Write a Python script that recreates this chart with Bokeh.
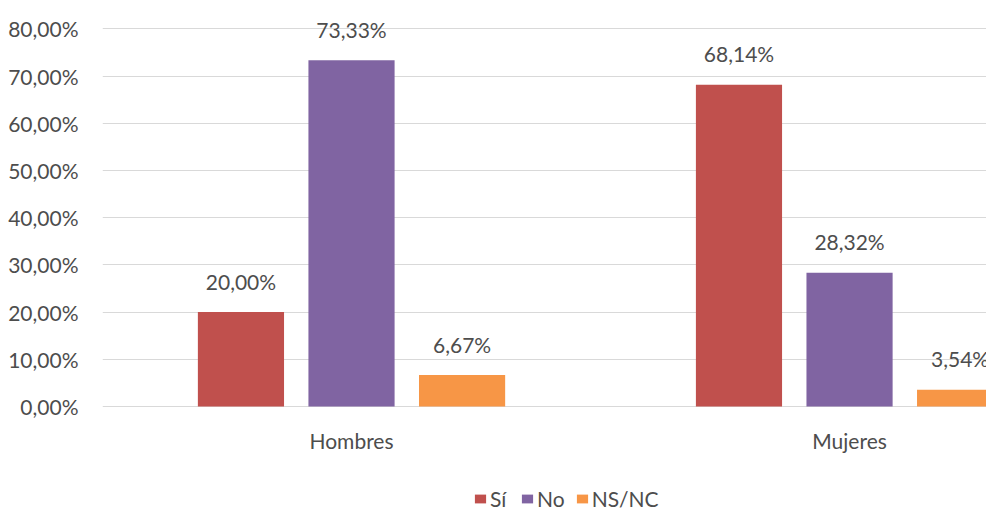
from bokeh.plotting import figure
from bokeh.models import ColumnDataSource, FixedTicker, Legend, LegendItem, Range1d
from bokeh.core.properties import value
from bokeh.embed import file_html
from bokeh.resources import INLINE

# Survey answers by gender (percent of respondents)
groups = ["Hombres", "Mujeres"]
series = ["Sí", "No", "NS/NC"]
si = [20.00, 68.14]
no = [73.33, 28.32]
nsnc = [6.67, 3.54]
y_ticks = [0, 10, 20, 30, 40, 50, 60, 70, 80]

colors = ["#C0504D", "#8064A2", "#F79646"]
offsets = [-0.222, 0.0, 0.222]
bar_width = 0.173
FONT = "Lato"
FONT_SIZE = "21px"
TEXT_COLOR = "#4d4d4d"

# the frame fills the whole height: some room above 80 % for value labels,
# and the area below zero holds category names and the legend
PX_PER_UNIT = 380 / 80.5
Y_TOP = 80.5 + 26 / PX_PER_UNIT
Y_BOTTOM = -105 / PX_PER_UNIT


def pct(v):
    return f"{v:.2f}".replace(".", ",") + "%"


p = figure(
    width=986, height=511,
    x_range=Range1d(-0.5, 1.275), y_range=Range1d(Y_BOTTOM, Y_TOP),
    output_backend="svg", toolbar_location=None,
    min_border_left=102, min_border_right=0,
    min_border_top=0, min_border_bottom=0,
)
p.outline_line_color = None
p.background_fill_color = "white"
p.border_fill_color = "white"

p.xaxis.visible = False
p.xgrid.visible = False
p.ygrid.grid_line_color = "#d9d9d9"
p.ygrid.grid_line_width = 1
p.ygrid.ticker = FixedTicker(ticks=y_ticks)

p.yaxis.ticker = FixedTicker(ticks=y_ticks)
p.yaxis.major_label_overrides = {t: pct(t) for t in y_ticks}
p.yaxis.axis_line_color = None
p.yaxis.major_tick_line_color = None
p.yaxis.minor_tick_line_color = None
p.yaxis.major_label_standoff = 18
p.yaxis.major_label_text_font = FONT
p.yaxis.major_label_text_font_size = FONT_SIZE
p.yaxis.major_label_text_color = TEXT_COLOR

# category names under each group of bars
cat_src = ColumnDataSource(dict(x=list(range(len(groups))), y=[0] * len(groups), name=groups))
p.text(x="x", y="y", text="name", source=cat_src,
       text_align="center", text_baseline="alphabetic", y_offset=34,
       text_font=value(FONT), text_font_size=FONT_SIZE, text_color=TEXT_COLOR)

items = []
for name, vals, color, off in zip(series, [si, no, nsnc], colors, offsets):
    src = ColumnDataSource(dict(
        x=[i + off for i in range(len(groups))],
        top=vals,
        label=[pct(v) for v in vals],
    ))
    r = p.vbar(x="x", top="top", bottom=0, width=bar_width, source=src,
               fill_color=color, line_color=None)
    p.text(x="x", y="top", text="label", source=src,
           text_align="center", text_baseline="alphabetic", y_offset=-31,
           text_font=value(FONT), text_font_size=FONT_SIZE, text_color=TEXT_COLOR)
    items.append(LegendItem(label=name, renderers=[r]))

legend = Legend(
    items=items, orientation="horizontal", location=(371, 0),
    padding=0, margin=0, border_line_color=None, background_fill_alpha=0,
    glyph_width=14, glyph_height=11, label_standoff=3, spacing=10,
    label_height=20,
    label_text_font=FONT, label_text_font_size=FONT_SIZE, label_text_color=TEXT_COLOR,
)
p.add_layout(legend)

open("out.html", "w").write(file_html(p, INLINE))
